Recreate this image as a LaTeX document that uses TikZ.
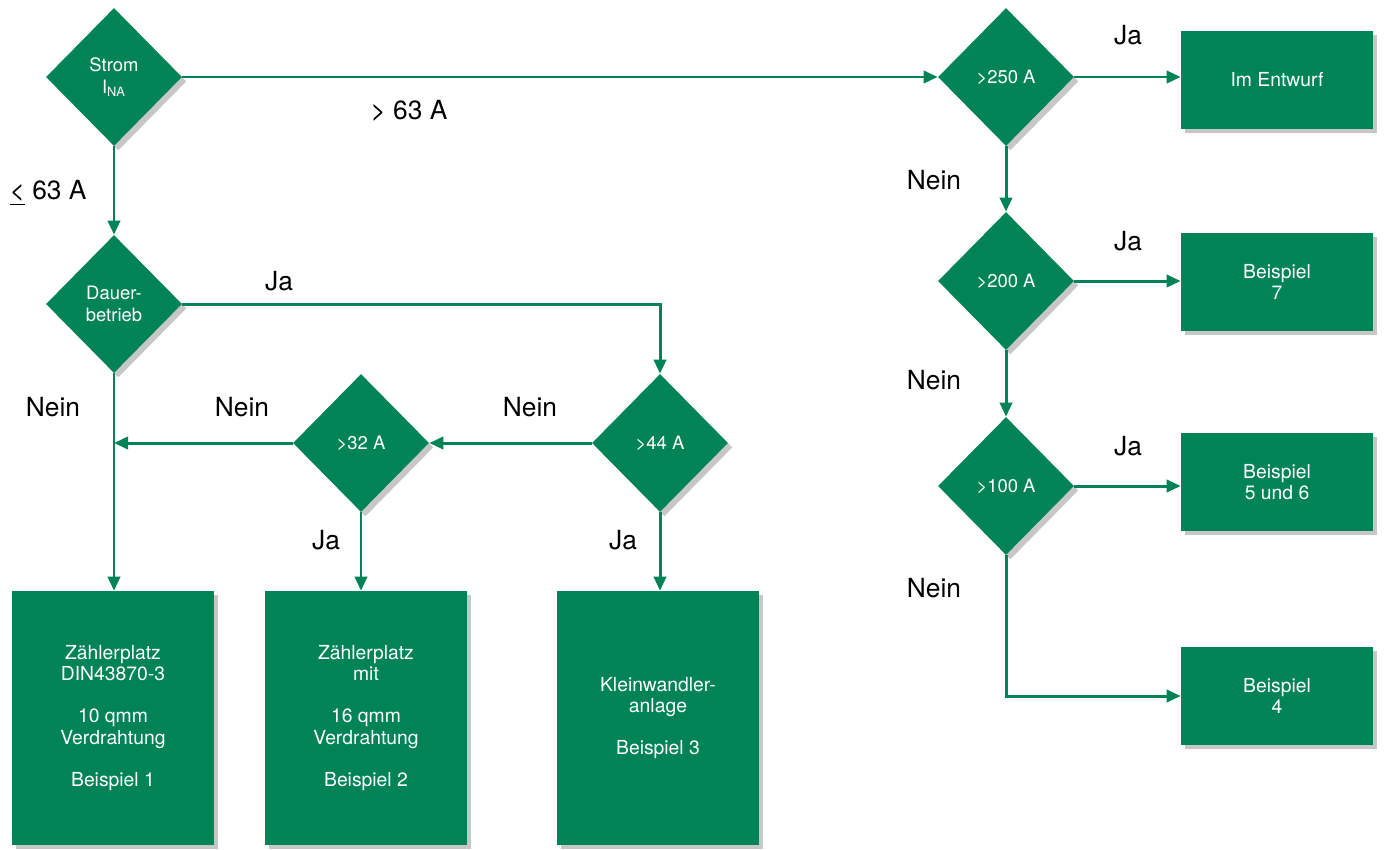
\documentclass[tikz,border=0pt]{standalone}
\usepackage{fontspec}
\setmainfont{TeX Gyre Heros}
\usetikzlibrary{arrows.meta,shapes.geometric,shadows}
\definecolor{vdegruen}{RGB}{0,132,87}

\begin{document}
\begin{tikzpicture}[x=0.02cm,y=-0.02cm,>={Triangle[length=8pt,width=7pt]},
    schatten/.style={drop shadow={shadow xshift=2.5pt,shadow yshift=-2.5pt,fill=black!40,opacity=0.55}},
    raute/.style={diamond,fill=vdegruen,text=white,minimum width=2.72cm,minimum height=2.76cm,
        inner sep=0pt,align=center,font=\fontsize{10.5}{12.5}\selectfont,schatten},
    kasten/.style={rectangle,fill=vdegruen,text=white,minimum width=4.04cm,minimum height=5.08cm,
        inner sep=0pt,align=center,font=\fontsize{11}{12}\selectfont,schatten},
    kleinkasten/.style={kasten,minimum width=3.84cm,minimum height=1.96cm},
    pfeil/.style={draw=vdegruen,line width=1.7pt,->},
    marke/.style={font=\fontsize{15}{18}\selectfont}]
    \useasboundingbox (0,0) rectangle (1386,849);

    % linke Seite
    \node[raute] (strom) at (114,77) {Strom\\I\textsubscript{NA}};
    \node[raute] (dauer) at (114,304) {Dauer-\\betrieb};
    \node[raute] (r32) at (361,443) {>32 A};
    \node[raute] (r44) at (660,443) {>44 A};

    \node[kasten] (bsp1) at (113,718) {Zählerplatz\\DIN43870-3\\[12pt]10 qmm\\Verdrahtung\\[12pt]Beispiel 1};
    \node[kasten] (bsp2) at (366,718) {Zählerplatz\\mit\\[12pt]16 qmm\\Verdrahtung\\[12pt]Beispiel 2};
    \node[kasten] (bsp3) at (658,718) {Kleinwandler-\\anlage\\[12pt]Beispiel 3};

    % rechte Seite
    \node[raute] (r250) at (1006,77) {>250 A};
    \node[raute] (r200) at (1006,281) {>200 A};
    \node[raute] (r100) at (1006,486) {>100 A};

    \node[kleinkasten] (entwurf) at (1277,80) {Im Entwurf};
    \node[kleinkasten] (bsp7) at (1277,282) {Beispiel\\7};
    \node[kleinkasten] (bsp56) at (1277,482) {Beispiel\\5 und 6};
    \node[kleinkasten] (bsp4) at (1277,696) {Beispiel\\4};

    % Verbindungen
    \draw[pfeil] (strom.east) -- (r250.west);
    \draw[pfeil] (strom.south) -- (dauer.north);
    \draw[pfeil] (dauer.east) -| (r44.north);
    \draw[pfeil] (dauer.south) -- (bsp1.north -| dauer.south);
    \draw[pfeil] (r44.west) -- (r32.east);
    \draw[pfeil] (r32.west) -- (r32.west -| dauer.south);
    \draw[pfeil] (r32.south) -- (bsp2.north -| r32.south);
    \draw[pfeil] (r44.south) -- (bsp3.north -| r44.south);

    \draw[pfeil] (r250.east) -- (r250.east -| entwurf.west);
    \draw[pfeil] (r250.south) -- (r200.north);
    \draw[pfeil] (r200.east) -- (r200.east -| bsp7.west);
    \draw[pfeil] (r200.south) -- (r100.north);
    \draw[pfeil] (r100.east) -- (r100.east -| bsp56.west);
    \draw[pfeil] (r100.south) |- (bsp4.west);

    % Beschriftungen
    \node[marke] (l63) at (409,111) {> 63 A};
    \node[marke] (k63) at (48,193) {\underline{<} 63 A};
    \node[marke] (jadauer) at (279,281) {Ja};
    \node[marke] (neindauer) at (53,407) {Nein};
    \node[marke] (nein32) at (242,407) {Nein};
    \node[marke] (nein44) at (530,407) {Nein};
    \node[marke] (ja32) at (326,540) {Ja};
    \node[marke] (ja44) at (623,540) {Ja};
    \node[marke] (ja250) at (1128,35) {Ja};
    \node[marke] (nein250) at (934,180) {Nein};
    \node[marke] (ja200) at (1128,241) {Ja};
    \node[marke] (nein200) at (934,380) {Nein};
    \node[marke] (ja100) at (1128,446) {Ja};
    \node[marke] (nein100) at (934,588) {Nein};
\end{tikzpicture}
\end{document}
